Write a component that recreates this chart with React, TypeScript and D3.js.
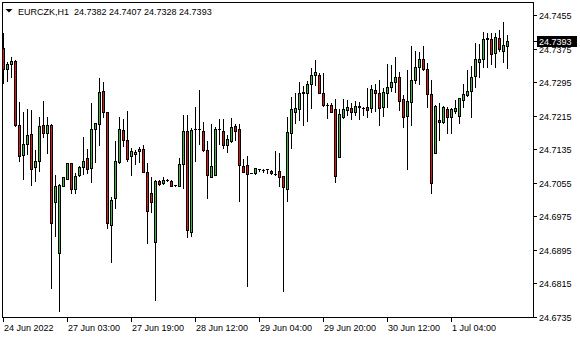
import React from "react";
import * as d3 from "d3";

const symbolName = "EURCZK,H1";

const opens = [
  24.7376, 24.7325, 24.7337, 24.7345, 24.7192, 24.7121, 24.7146, 24.717, 24.7093, 24.7106,
  24.7192, 24.7173, 24.7192, 24.7009, 24.6886, 24.7048, 24.7064, 24.7101, 24.704, 24.7072,
  24.7093, 24.7114, 24.7089, 24.7182, 24.7194, 24.7274, 24.7223, 24.6955, 24.7018, 24.7105,
  24.7181, 24.7156, 24.7119, 24.7123, 24.713, 24.7135, 24.708, 24.703, 24.6914, 24.7058,
  24.7055, 24.7062, 24.706, 24.7049, 24.7048, 24.7099, 24.7178, 24.6936, 24.7182, 24.7183,
  24.7178, 24.7133, 24.7069, 24.7074, 24.7182, 24.7178, 24.7145, 24.7155, 24.719, 24.7183,
  24.7095, 24.7097, 24.7077, 24.7077, 24.7088, 24.7085, 24.7087, 24.7083, 24.7076, 24.7083,
  24.7071, 24.704, 24.7174, 24.7224, 24.723, 24.727, 24.727, 24.729, 24.7311, 24.7313,
  24.7268, 24.724, 24.7241, 24.723, 24.7117, 24.7211, 24.7228, 24.7232, 24.7224, 24.7235,
  24.7232, 24.7235, 24.7234, 24.7277, 24.7268, 24.7236, 24.7268, 24.7284, 24.7296, 24.7308,
  24.7254, 24.7215, 24.7248, 24.7299, 24.733, 24.7349, 24.7325, 24.7266, 24.7125, 24.7204,
  24.72, 24.723, 24.7212, 24.7227, 24.7215, 24.7251, 24.7265, 24.7273, 24.7309, 24.7343,
  24.7349, 24.7397, 24.7397, 24.7364, 24.74, 24.737, 24.7382,
];
const highs = [
  24.7411, 24.7344, 24.7354, 24.7348, 24.7247, 24.7223, 24.7231, 24.7228, 24.7133, 24.7211,
  24.725, 24.7211, 24.7195, 24.7073, 24.7052, 24.7068, 24.7101, 24.7101, 24.7079, 24.7095,
  24.7165, 24.7135, 24.7244, 24.7198, 24.7304, 24.7295, 24.7223, 24.702, 24.7154, 24.7211,
  24.7207, 24.7226, 24.7137, 24.7133, 24.7141, 24.7144, 24.7101, 24.7069, 24.7061, 24.7061,
  24.7068, 24.7064, 24.7061, 24.7049, 24.7114, 24.7216, 24.7216, 24.7185, 24.7235, 24.7276,
  24.72, 24.7155, 24.7195, 24.7188, 24.7207, 24.7206, 24.7169, 24.7209, 24.7196, 24.7195,
  24.7111, 24.7119, 24.7077, 24.7089, 24.7088, 24.7088, 24.7087, 24.7085, 24.713, 24.7125,
  24.7071, 24.7211, 24.7259, 24.727, 24.7295, 24.7286, 24.7298, 24.7329, 24.7347, 24.7317,
  24.7316, 24.7244, 24.7244, 24.7255, 24.723, 24.7254, 24.7252, 24.7244, 24.725, 24.7248,
  24.7236, 24.728, 24.7288, 24.729, 24.73, 24.728, 24.7338, 24.7336, 24.7354, 24.7318,
  24.7264, 24.7324, 24.7381, 24.7369, 24.7367, 24.7381, 24.7341, 24.7301, 24.724, 24.7244,
  24.7238, 24.7236, 24.7232, 24.7252, 24.7256, 24.729, 24.7324, 24.7333, 24.7389, 24.7386,
  24.7414, 24.7411, 24.7411, 24.7411, 24.7419, 24.7438, 24.7407,
];
const lows = [
  24.7292, 24.7298, 24.7308, 24.7191, 24.7107, 24.7064, 24.7123, 24.705, 24.706, 24.7083,
  24.7165, 24.7126, 24.6804, 24.6928, 24.6749, 24.7047, 24.7064, 24.703, 24.7031, 24.7071,
  24.7076, 24.7079, 24.7057, 24.7105, 24.7145, 24.7212, 24.6947, 24.6866, 24.6995, 24.7102,
  24.7142, 24.7107, 24.7073, 24.7099, 24.7105, 24.708, 24.6912, 24.6986, 24.6775, 24.7049,
  24.7052, 24.706, 24.7048, 24.7048, 24.7048, 24.7041, 24.6926, 24.6928, 24.7107, 24.7147,
  24.713, 24.7019, 24.7069, 24.7072, 24.7147, 24.7138, 24.7129, 24.7153, 24.7157, 24.7012,
  24.7081, 24.6809, 24.7077, 24.7075, 24.7082, 24.7081, 24.7077, 24.7076, 24.7073, 24.7048,
  24.6797, 24.7011, 24.7138, 24.7198, 24.7204, 24.7193, 24.7203, 24.7233, 24.7288, 24.7268,
  24.7239, 24.7209, 24.7223, 24.7057, 24.7117, 24.721, 24.7217, 24.7207, 24.7216, 24.7207,
  24.7216, 24.7212, 24.7224, 24.7226, 24.7193, 24.7214, 24.7235, 24.7274, 24.7271, 24.7228,
  24.7188, 24.7087, 24.7193, 24.7292, 24.729, 24.7324, 24.7236, 24.7031, 24.7125, 24.7157,
  24.7198, 24.7174, 24.7174, 24.7221, 24.7198, 24.7236, 24.7262, 24.7212, 24.7284, 24.7306,
  24.733, 24.733, 24.7337, 24.733, 24.737, 24.7342, 24.7328,
];
const closes = [
  24.7325, 24.7338, 24.7345, 24.7192, 24.7119, 24.7146, 24.7168, 24.7088, 24.7107, 24.719,
  24.7174, 24.7192, 24.6958, 24.7047, 24.7049, 24.7068, 24.7101, 24.704, 24.7071, 24.7092,
  24.7107, 24.7087, 24.7183, 24.7197, 24.7271, 24.7224, 24.6959, 24.7013, 24.7106, 24.7182,
  24.7156, 24.7111, 24.713, 24.7128, 24.7136, 24.708, 24.6988, 24.7009, 24.706, 24.7052,
  24.7061, 24.7062, 24.7048, 24.7049, 24.7099, 24.7178, 24.6942, 24.7181, 24.7182, 24.7183,
  24.7132, 24.7072, 24.7095, 24.7182, 24.7182, 24.7144, 24.7159, 24.7188, 24.7177, 24.7097,
  24.7081, 24.7075, 24.7077, 24.7089, 24.7088, 24.7085, 24.7087, 24.7077, 24.7076, 24.7069,
  24.7044, 24.7175, 24.723, 24.7232, 24.7268, 24.7271, 24.729, 24.7313, 24.7318, 24.7268,
  24.724, 24.724, 24.7223, 24.707, 24.7218, 24.723, 24.7236, 24.7224, 24.7238, 24.7238,
  24.7232, 24.7228, 24.7278, 24.7268, 24.7232, 24.7271, 24.7282, 24.7295, 24.7306, 24.725,
  24.7211, 24.725, 24.7299, 24.733, 24.7349, 24.7325, 24.7266, 24.7053, 24.7239, 24.7199,
  24.7236, 24.7211, 24.7231, 24.7233, 24.7256, 24.7266, 24.7274, 24.7306, 24.7349, 24.7349,
  24.7397, 24.74, 24.7361, 24.7402, 24.7373, 24.7383, 24.7393,
];

const dateLabels = [
  "24 Jun 2022", "27 Jun 03:00", "27 Jun 19:00", "28 Jun 12:00",
  "29 Jun 04:00", "29 Jun 20:00", "30 Jun 12:00", "1 Jul 04:00",
];
const barsPerLabel = 16;

const priceMin = 24.6735;
const priceStep = 0.008;
const priceTickCount = 10;

const FONT = "'Liberation Sans', Arial, sans-serif";
const UP = "#3fb83f";
const DOWN = "#e01515";

export default function App() {
  const n = opens.length;
  const frame = { left: 2, top: 2, right: 533, bottom: 317 };
  const x = d3.scaleLinear().domain([0, n - 1]).range([3, 3 + 4 * (n - 1)]);
  const priceTicks = d3.range(priceTickCount).map((k) => priceMin + k * priceStep);
  const y = d3
    .scaleLinear()
    .domain([priceMin, priceTicks[priceTicks.length - 1]])
    .range([316.7, 15]);
  const fmt = d3.format(".4f");
  const py = (p: number) => Math.round(y(p));

  const last = n - 1;
  const header = `${symbolName}  ${fmt(opens[last])} ${fmt(highs[last])} ${fmt(lows[last])} ${fmt(closes[last])}`;
  const lastY = py(closes[last]);

  return (
    <svg
      width={580}
      height={340}
      style={{ position: "absolute", left: 0, top: 0, background: "#fff" }}
      fontFamily={FONT}
    >
      <rect x={0} y={0} width={580} height={340} fill="#fff" />
      {/* candles */}
      <g shapeRendering="crispEdges">
        {opens.map((o, i) => {
          const c = closes[i];
          const col = Math.round(x(i));
          const hy = py(highs[i]);
          const ly = py(lows[i]);
          const top = py(Math.max(o, c));
          const bot = py(Math.min(o, c));
          const up = c > o;
          const flat = bot - top < 1;
          return (
            <g key={i}>
              <line x1={col + 0.5} x2={col + 0.5} y1={hy} y2={ly + 1} stroke="#000" strokeWidth={1} />
              {flat ? (
                <line x1={col - 1} x2={col + 2} y1={top + 0.5} y2={top + 0.5} stroke="#000" strokeWidth={1} />
              ) : (
                <rect
                  x={col - 0.5}
                  y={top + 0.5}
                  width={2}
                  height={bot - top}
                  fill={up ? UP : DOWN}
                  stroke="#000"
                  strokeWidth={1}
                />
              )}
            </g>
          );
        })}
      </g>
      {/* frame */}
      <rect
        x={frame.left + 0.5}
        y={frame.top + 0.5}
        width={frame.right - frame.left}
        height={frame.bottom - frame.top}
        fill="none"
        stroke="#000"
        strokeWidth={1}
        shapeRendering="crispEdges"
      />
      {/* price axis */}
      {priceTicks.map((p, k) => {
        const ty = py(p);
        return (
          <g key={k}>
            <line x1={frame.right} x2={frame.right + 4} y1={ty + 0.5} y2={ty + 0.5} stroke="#000" shapeRendering="crispEdges" />
            <text x={539} y={ty + 3.8} fontSize={9} fill="#000">
              {fmt(p)}
            </text>
          </g>
        );
      })}
      {/* current price */}
      <line x1={frame.right} x2={frame.right + 4} y1={lastY + 0.5} y2={lastY + 0.5} stroke="#000" shapeRendering="crispEdges" />
      <rect x={537} y={lastY - 5} width={40} height={11} fill="#000" shapeRendering="crispEdges" />
      <text x={539} y={lastY + 3.8} fontSize={9} fill="#fff">
        {fmt(closes[last])}
      </text>
      {/* time axis */}
      {dateLabels.map((lab, k) => {
        const col = Math.round(x(k * barsPerLabel));
        return (
          <g key={lab}>
            <line x1={col + 0.5} x2={col + 0.5} y1={frame.bottom} y2={frame.bottom + 5} stroke="#000" shapeRendering="crispEdges" />
            <text x={col + 1} y={331} fontSize={9} fill="#000">
              {lab}
            </text>
          </g>
        );
      })}
      {/* header */}
      <polygon points="5.5,9 12.5,9 9,12.5" fill="#000" />
      <text x={18} y={14.5} fontSize={9} fill="#000" style={{ whiteSpace: "pre" }}>
        {header}
      </text>
    </svg>
  );
}
